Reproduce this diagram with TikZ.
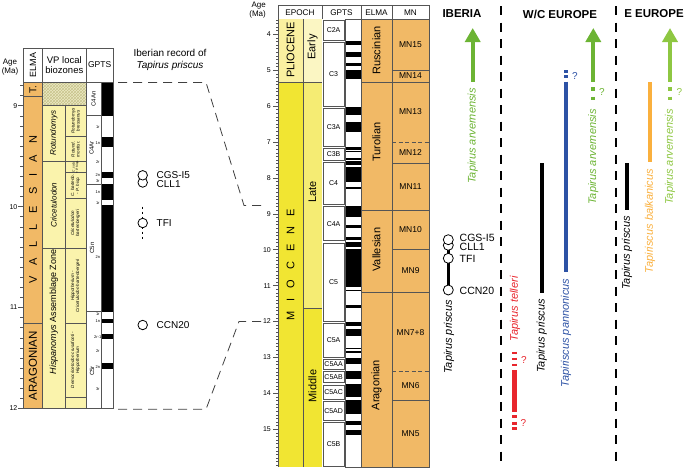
\documentclass[tikz,border=0pt]{standalone}
\usepackage{fontspec}
\setmainfont{Liberation Sans}
\usetikzlibrary{patterns,arrows.meta}
\definecolor{elma}{RGB}{241,185,102}
\definecolor{plio}{RGB}{250,240,160}
\definecolor{earlyc}{RGB}{251,246,195}
\definecolor{mio}{RGB}{241,229,50}
\definecolor{latec}{RGB}{245,236,115}
\definecolor{bz}{RGB}{250,243,172}
\definecolor{hatchbg}{RGB}{236,233,195}
\definecolor{hatchfg}{RGB}{200,196,140}
\definecolor{grn}{RGB}{108,180,52}
\definecolor{lgrn}{RGB}{142,199,66}
\definecolor{tblue}{RGB}{45,82,165}
\definecolor{tred}{RGB}{232,38,45}
\definecolor{torange}{RGB}{250,176,62}
\definecolor{frame}{RGB}{85,85,85}
\newcommand\fsz[1]{\fontsize{#1}{#1}\selectfont}
\newcommand\gapM{\hspace{10pt}}
\newcommand\gapV{\hspace{11pt}}
\begin{document}
\begin{tikzpicture}[x=1pt,y=-1pt,
  box/.style={draw=frame,line width=0.6pt},
  rot/.style={rotate=90,inner sep=0pt},
  spec/.style={rotate=90,inner sep=0pt,font=\fsz{11}\itshape},
  sepline/.style={line width=2pt,dash pattern=on 9pt off 7.5pt},
  conn/.style={draw=black!75,line width=0.8pt,dash pattern=on 9pt off 6pt},
  site/.style={circle,draw=black,fill=white,line width=0.8pt,minimum size=9.5pt,inner sep=0pt},
  arr/.style={line width=4pt,-{Triangle[width=15pt,length=14pt]}},
  sitelbl/.style={anchor=west,inner sep=0pt,font=\fsz{10}},
  sub/.style={rotate=90,inner sep=0pt,align=center,font=\fontsize{4.5}{5}\selectfont\itshape},
  tiny/.style={inner sep=0pt,font=\fsz{4}},
  qm/.style={inner sep=0pt,font=\fsz{10}},
]
\useasboundingbox (0,0) rectangle (685,467);

% ================= LEFT PANEL =================
\node[inner sep=0pt,align=center,font=\fontsize{8}{9}\selectfont] (lage) at (10,67) {Age\\(Ma)};
\draw[box] (23.3,48.3) rectangle (113.3,82.4);
\draw[box] (42.7,48.3)--(42.7,82.4) (86,48.3)--(86,82.4);
\node[rot,font=\fsz{9}] (lelma) at (33,65) {ELMA};
\node[inner sep=0pt,align=center,font=\fontsize{9.5}{10.5}\selectfont] (lvp) at (64.3,65) {VP local\\biozones};
\node[inner sep=0pt,font=\fsz{8.5}] (lgpts) at (99.6,65) {GPTS};

\begin{scope}[yshift=802.4pt,y=-100.9pt]
  % ELMA
  \draw[box,fill=elma] (23.3,8.769) rectangle (42.7,8.91);
  \draw[box,fill=elma] (23.3,8.91) rectangle (42.7,11.157);
  \draw[box,fill=elma] (23.3,11.157) rectangle (42.7,12);
  % biozones
  \fill[hatchbg] (42.7,8.769) rectangle (86,9.0);
  \fill[pattern=crosshatch,pattern color=hatchfg] (42.7,8.769) rectangle (86,9.0);
  \fill[bz] (42.7,9.0) rectangle (86,12);
  \draw[box] (42.7,8.769) rectangle (86,12);
  \draw[box] (42.7,9.0) -- (86,9.0) (65,9.0) -- (65,12)
             (42.7,9.555) -- (86,9.555) (42.7,10.413) -- (86,10.413);
  \foreach \a in {9.307,9.664,9.918,11.157,11.89} \draw[box] (65,\a) -- (86,\a);
  % GPTS
  \fill[white] (86,8.769) rectangle (113.3,12);
  \foreach \a/\b in {8.769/9.098,9.098/9.779,9.779/11.040,11.040/12}
    \draw[box] (86,\a) rectangle (101.7,\b);
  \foreach \a/\b in {8.769/9.098,9.312/9.409,9.656/9.717,9.779/9.934,9.987/11.040,11.118/11.154,11.263/11.308,11.554/11.614}
    \fill[black] (101.7,\a) rectangle (113.3,\b);
  \draw[box] (101.7,8.769) rectangle (113.3,12);
  % axis
  \foreach \i in {88,...,120} \draw[frame,line width=0.5pt] (23.3,\i/10) -- ++(-3,0);
  \foreach \a in {9,10,11,12} {
    \draw[frame,line width=0.6pt] (23.3,\a) -- ++(-5,0);
    \node[anchor=east,inner sep=0pt,font=\fsz{7}] (lt\a) at (17.5,\a) {\a};
  }
\end{scope}

% left labels
\node[rot,font=\fsz{10}] (lT) at (33,89.5) {T.};
\node[rot,font=\fsz{11}] (lvall) at (33,210) {V\gapV A\gapV L\gapV L\gapV E\gapV S\gapV I\gapV A\gapV N};
\node[rot,font=\fsz{11.5}] (larag) at (33,366) {ARAGONIAN};
\node[rot,font=\fsz{8}\itshape] (lrot) at (53.8,133) {Rotundomys};
\node[rot,font=\fsz{8}\itshape] (lcri) at (53.8,205) {Cricetulodon};
\node[rot,font=\fsz{9}] (lhis) at (53.8,312) {\textit{Hispanomys} Assemblage Zone};
\node[sub] (s1) at (75.5,121) {Rotundomys\\bressanus};
\node[sub] (s2) at (75.5,149.2) {Rotund.\\montisr.};
\node[sub,font=\fontsize{3.2}{3.6}\selectfont\itshape] (s3) at (75.5,167.2) {C. sab.\\+ P. hisp.};
\node[sub] (s4) at (75.5,185.5) {C. hartenb.\\- P. hisp.};
\node[sub] (s5) at (75.5,223.3) {Cricetulodon\\hartenbergeri};
\node[sub] (s6) at (75.5,286) {Hippotherium -\\Cricetulodon hartenbergeri};
\node[sub] (s7) at (75.5,360) {Democricetodon crusafonti -\\Hippotherium};
% left chrons
\node[rot,font=\fsz{6}] (lc1) at (93.5,99) {C4An};
\node[rot,font=\fsz{6}] (lc2) at (91.5,148) {C4Ar};
\node[rot,font=\fsz{6}] (lc3) at (92,248) {C5n};
\node[rot,font=\fsz{6}] (lc4) at (92,371) {C5r};
\foreach \y/\t [count=\k] in {127/1r,143.5/1n,162/2r,175/2n,181.5/3r,192.3/1n,202.7/1r,257/2n,314/1r,321/1n,336.7/2r-1,351/2r,367.3/2n,389.3/3r}
  \node[tiny] (ls\k) at (97.8,\y) {\t};

% Iberian record
\node[inner sep=0pt,align=center,font=\fontsize{10}{12.5}\selectfont] (ibrec) at (170,60) {Iberian record of\\\textit{Tapirus priscus}};
\draw[dash pattern=on 2pt off 3pt,line width=0.7pt] (142.7,206.7) -- (142.7,240);
\node[site] (lcll) at (142.7,182.5) {};
\node[site] (lcgs) at (142.7,175.3) {};
\node[site] (ltfi) at (142.7,223) {};
\node[site] (lccn) at (142.7,325) {};
\node[sitelbl] (llcgs) at (156.5,175) {CGS-I5};
\node[sitelbl] (llcll) at (156.5,184) {CLL1};
\node[sitelbl] (lltfi) at (156.5,223) {TFI};
\node[sitelbl] (llccn) at (156.5,325) {CCN20};

% connectors
\coordinate (c1) at (118,82.4);
\coordinate (c2) at (206,82.4);
\coordinate (c3) at (244,205.5);
\coordinate (c4) at (263,205.5);
\coordinate (d1) at (118,409.3);
\coordinate (d2) at (206,409.3);
\coordinate (d3) at (239,321.5);
\coordinate (d4) at (263,321.5);
\draw[conn] (c1) -- (c2) -- (c3) -- (c4);
\draw[conn] (d1) -- (d2) -- (d3) -- (d4);

% ================= MIDDLE PANEL =================
\node[inner sep=0pt,align=right,anchor=east,font=\fontsize{8}{9}\selectfont] (mage) at (266,10.5) {Age\\(Ma)};
\draw[box] (278,5) rectangle (429,19.2);
\draw[box] (322,5)--(322,19.2) (361,5)--(361,19.2) (392,5)--(392,19.2);
\node[inner sep=0pt,font=\fsz{8.2}] (hep) at (300,12.3) {EPOCH};
\node[inner sep=0pt,font=\fsz{8.2}] (hgp) at (341.5,12.3) {GPTS};
\node[inner sep=0pt,font=\fsz{8.2}] (hel) at (376.5,12.3) {ELMA};
\node[inner sep=0pt,font=\fsz{8.2}] (hmn) at (410.5,12.3) {MN};

\begin{scope}[yshift=109.3pt,y=-35.9pt]
  \fill[plio] (278,3.574) rectangle (303,5.33);
  \fill[earlyc] (303,3.574) rectangle (322,5.33);
  \fill[mio] (278,5.33) rectangle (303,16.05);
  \fill[latec] (303,5.33) rectangle (322,11.63);
  \fill[mio] (303,11.63) rectangle (322,16.05);
  \draw[box] (278,5.33) -- (322,5.33) (303,3.574) -- (303,16.05)
             (303,11.63) -- (322,11.63) (322,3.574) -- (322,16.05);
  % GPTS
  \fill[white] (322,3.574) rectangle (361,16.05);
  \foreach \a/\b/\n in {3.574/4.187/C2A,4.187/6.033/C3,6.033/7.140/C3A,7.140/7.528/C3B,7.528/8.769/C4,8.769/9.779/C4A,9.779/12.014/C5,12.014/13.015/C5A,13.015/13.369/C5AA,13.369/13.734/C5AB,13.734/14.194/C5AC,14.194/14.784/C5AD,14.784/16.05/C5B}{
    \draw[box] (322.8,\a+0.03) rectangle (344.3,\b-0.03);
    \node[inner sep=0pt,font=\fsz{7}] (chr\n) at (333.6,{(\a+\b)/2}) {\n};
  }
  \foreach \a/\b in {4.187/4.300,4.493/4.631,4.799/4.896,4.997/5.235,6.033/6.252,6.436/6.733,7.140/7.212,7.251/7.285,7.454/7.489,7.528/7.642,7.695/8.108,8.254/8.300,8.769/9.098,9.312/9.409,9.656/9.717,9.779/9.934,9.987/11.040,11.118/11.154,11.554/11.614,12.014/12.116,12.207/12.415,12.730/12.765,12.820/12.878,13.015/13.183,13.369/13.605,13.734/14.095,14.194/14.581,14.784/14.877,15.032/15.160}
    \fill[black] (345,\a) rectangle (361,\b);
  \draw[box] (345,3.574) rectangle (361,16.05);
  % ELMA
  \foreach \a/\b in {3.574/5.33,5.33/8.9,8.9/11.2,11.2/16.05}
    \draw[box,fill=elma] (361,\a) rectangle (392,\b);
  % MN
  \draw[box,fill=elma] (392,3.574) rectangle (429,16.05);
  \foreach \a in {4.99,5.33,7.59,8.9,9.98,11.2,14.2} \draw[box] (392,\a) -- (429,\a);
  \foreach \a in {7.0,13.39} \draw[box,dash pattern=on 4pt off 2.5pt] (392,\a) -- (429,\a);
  \foreach \a/\n [count=\k] in {4.28/MN15,5.16/MN14,6.165/MN13,7.295/MN12,8.245/MN11,9.44/MN10,10.59/MN9,12.295/MN7+8,13.795/MN6,15.125/MN5}
    \node[inner sep=0pt,font=\fsz{8.5}] (mn\k) at (410.5,\a) {\n};
  \node[rot,font=\fsz{11}] (rusc) at (376.5,4.45) {Ruscinian};
  \node[rot,font=\fsz{11}] (turo) at (376.5,7.0) {Turolian};
  \node[rot,font=\fsz{11}] (vall) at (376.5,10.0) {Vallesian};
  \node[rot,font=\fsz{11}] (arag) at (376.5,13.77) {Aragonian};
  % axis
  \draw[frame,line width=0.6pt] (278,3.574) -- (278,16.05);
  \foreach \i in {36,...,160} \draw[frame,line width=0.5pt] (278,\i/10) -- ++(-2,0);
  \foreach \a in {4,...,15} {
    \draw[frame,line width=0.6pt] (278,\a) -- ++(-5,0);
    \node[anchor=east,inner sep=0pt,font=\fsz{7}] (mt\a) at (271,\a) {\a};
  }
\end{scope}
\node[rot,font=\fsz{11}] (plio) at (290.5,50) {PLIOCENE};
\node[rot,font=\fsz{11}] (early) at (312.5,47) {Early};
\node[rot,font=\fsz{11}] (mioc) at (290.5,265) {M\gapM I\gapM O\gapM C\gapM E\gapM N\gapM E};
\node[rot,font=\fsz{11}] (late) at (312.5,192) {Late};
\node[rot,font=\fsz{11}] (middle) at (312.5,386) {Middle};

% ================= RIGHT PANEL =================
\node[inner sep=0pt,font=\fsz{11.5}\bfseries] (iberia) at (462,14) {IBERIA};
\node[inner sep=0pt,font=\fsz{11.5}\bfseries] (wc) at (560,14) {W/C EUROPE};
\node[inner sep=0pt,font=\fsz{11.5}\bfseries] (ee) at (654,14) {E EUROPE};
\coordinate (s1t) at (501,6); \coordinate (s1b) at (501,467);
\coordinate (s2t) at (615.7,6); \coordinate (s2b) at (615.7,467);
\draw[sepline] (s1t) -- (s1b);
\draw[sepline] (s2t) -- (s2b);

% arvernensis
\draw[arr,grn] (472.7,81.7) -- (472.7,28);
\node[spec,text=grn] (tarv1) at (472.7,136) {Tapirus arvernensis};
\draw[arr,grn] (593.3,81.7) -- (593.3,28);
\draw[grn,line width=4pt] (593.3,87.3) -- (593.3,90.7) (593.3,96.7) -- (593.3,100);
\node[qm,text=grn] (q1) at (602,92) {?};
\node[spec,text=grn] (tarv2) at (593.3,157) {Tapirus arvernensis};
\draw[arr,lgrn] (670,81.7) -- (670,28);
\draw[lgrn,line width=4pt] (670,87.3) -- (670,90.7) (670,96.7) -- (670,100);
\node[qm,text=lgrn] (q2) at (679.5,92) {?};
\node[spec,text=lgrn] (tarv3) at (670,157) {Tapirus arvernensis};

% Iberia priscus
\coordinate (pcll) at (448.3,245.3);
\coordinate (pccn) at (448.3,290);
\draw[line width=3pt] (pcll) -- (pccn);
\node[site,minimum size=10pt] (rcll) at (pcll) {};
\node[site,minimum size=10pt] (rcgs) at (448.3,239.7) {};
\node[site,minimum size=10pt] (rtfi) at (448.3,258.3) {};
\node[site,minimum size=10pt] (rccn) at (pccn) {};
\node[sitelbl,font=\fsz{10.5}] (rlcgs) at (459.5,238) {CGS-I5};
\node[sitelbl,font=\fsz{10.5}] (rlcll) at (459.5,247.3) {CLL1};
\node[sitelbl,font=\fsz{10.5}] (rltfi) at (459.5,259) {TFI};
\node[sitelbl,font=\fsz{10.5}] (rlccn) at (459.5,290.5) {CCN20};
\node[spec] (tpri1) at (449,337) {Tapirus priscus};

% telleri
\draw[tred,line width=4.5pt] (514.3,370) -- (514.3,411.7);
\draw[tred,line width=4.5pt] (514.3,351.5) -- (514.3,354) (514.3,357.5) -- (514.3,360) (514.3,363.5) -- (514.3,366);
\draw[tred,line width=4.5pt] (514.3,415) -- (514.3,418) (514.3,421.5) -- (514.3,424.5) (514.3,427) -- (514.3,429.5);
\node[qm,text=tred] (q3) at (524,360) {?};
\node[qm,text=tred] (q4) at (523.5,422.5) {?};
\node[spec,text=tred] (ttel) at (515,309) {Tapirus telleri};

% W/C priscus
\draw[line width=4pt] (541.7,163) -- (541.7,293);
\node[spec] (tpri2) at (541.7,336) {Tapirus priscus};

% pannonicus
\draw[tblue,line width=4.5pt] (566,81.7) -- (566,271.7);
\draw[tblue,line width=4.5pt] (566,70) -- (566,72.7) (566,75) -- (566,78.3);
\node[qm,text=tblue] (q5) at (575,76) {?};
\node[spec,text=tblue] (tpan) at (566,333) {Tapiriscus pannonicus};

% E Europe priscus and balkanicus
\draw[line width=4pt] (626.7,163) -- (626.7,210);
\node[spec] (tpri3) at (627,253) {Tapirus priscus};
\draw[torange,line width=4.5pt] (650,82) -- (650,162);
\node[spec,text=torange] (tbal) at (650,221) {Tapiriscus balkanicus};
\end{tikzpicture}
\end{document}
